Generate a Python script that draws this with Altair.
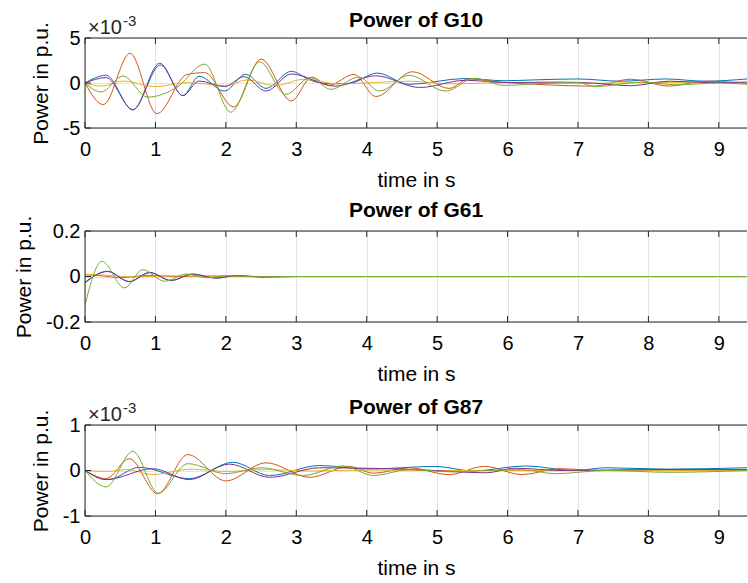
import altair as alt
import pandas as pd

# ---------------------------------------------------------------------------
# Data: damped power oscillations of three generators (five traces each)
# ---------------------------------------------------------------------------
TIME_TICKS = [0, 1, 2, 3, 4, 5, 6, 7, 8, 9]
T_MAX = 9.4

TRACE_NAMES = ["trace1", "trace2", "trace3", "trace4", "trace5"]
TRACE_COLORS = ["#0072BD", "#D95319", "#EDB120", "#7E2F8E", "#77AC30"]

# G10, values in 1e-3 p.u.
G10_T1 = [0, 0.3, 0.68, 1.06, 1.39, 1.62, 1.98, 2.28, 2.57, 2.93, 3.2, 3.5, 3.75, 4.15, 4.6, 5.4, 5.95, 6.4, 7.0, 7.6, 8.25, 8.8, 9.4]
G10_V1 = [0, 0.86, -3.0, 2.2, -1.4, 0.75, -0.9, 0.97, -0.6, 1.3, 0.3, -0.08, -0.05, 1.1, -0.15, 0.5, 0.25, 0.35, 0.45, 0.2, 0.45, 0.2, 0.45]
G10_T2 = [0, 0.26, 0.64, 1.02, 1.45, 1.7, 2.11, 2.5, 2.93, 3.22, 3.46, 3.82, 4.13, 4.65, 5.17, 5.45, 5.9, 6.55, 7.22, 7.75, 8.3, 8.8, 9.4]
G10_V2 = [0, -2.4, 3.3, -3.4, 0.95, 1.15, -2.65, 2.65, -2.0, 0.65, -0.25, 0.95, -1.5, 1.25, -0.6, 0.45, 0.1, -0.2, -0.35, 0.42, -0.35, 0.2, -0.05]
G10_T3 = [0, 0.24, 0.54, 1.0, 1.45, 2.0, 2.3, 2.7, 3.1, 3.6, 4.1, 4.6, 5.2, 6.0, 7.0, 8.0, 9.4]
G10_V3 = [0, -0.35, 0.22, -0.42, 0.05, -0.3, 0.35, -0.3, 0.4, -0.1, 0.05, 0.2, -0.1, 0.05, -0.05, 0.05, 0.0]
G10_T4 = [0, 0.3, 0.68, 1.07, 1.39, 1.62, 1.98, 2.26, 2.57, 2.93, 3.55, 4.13, 4.75, 5.4, 6.0, 6.7, 7.2, 7.75, 8.3, 8.9, 9.4]
G10_V4 = [0, 0.6, -2.95, 2.0, -1.4, 0.22, -0.4, 0.7, -0.9, 1.0, -0.35, 0.8, -0.5, 0.3, 0.05, 0.1, 0.0, -0.3, 0.2, 0.05, 0.1]
G10_T5 = [0, 0.23, 0.54, 0.89, 1.3, 1.7, 2.07, 2.48, 2.85, 3.2, 3.49, 3.89, 4.18, 4.6, 5.12, 5.53, 5.95, 6.5, 7.0, 7.25, 7.9, 8.4, 9.0, 9.4]
G10_V5 = [0, -1.0, 0.78, -1.57, -0.5, 2.1, -3.25, 2.35, -1.27, 0.6, -0.7, 0.67, -0.9, 0.86, -0.9, 0.52, -0.26, -0.05, 0.05, -0.4, 0.1, -0.2, 0.0, -0.15]

# G61, values in p.u.
G61_T1 = [0, 0.32, 0.63, 0.92, 1.22, 1.53, 1.86, 2.15, 2.5, 3.0, 9.4]
G61_V1 = [-0.028, 0.023, -0.023, 0.018, -0.018, 0.011, -0.007, 0.004, -0.002, 0, 0]
G61_T2 = [0, 0.2, 0.5, 0.9, 1.3, 1.8, 2.5, 9.4]
G61_V2 = [0.008, 0.004, -0.005, 0.005, 0.0, 0.002, 0, 0]
G61_T3 = [0, 0.3, 0.7, 1.2, 2.0, 9.4]
G61_V3 = [0.01, 0.006, -0.002, 0.003, 0, 0]
G61_T4 = [0, 0.32, 0.63, 0.92, 1.22, 1.53, 1.86, 2.15, 2.5, 3.0, 9.4]
G61_V4 = [-0.025, 0.022, -0.022, 0.017, -0.017, 0.01, -0.007, 0.004, -0.002, 0, 0]
G61_T5 = [0, 0.24, 0.56, 0.82, 1.13, 1.44, 1.74, 2.0, 2.4, 3.0, 9.4]
G61_V5 = [-0.125, 0.067, -0.05, 0.03, -0.021, 0.011, -0.006, 0.004, -0.001, 0, 0]

# G87, values in 1e-3 p.u.
G87_T1 = [0, 0.33, 0.77, 1.48, 2.1, 2.62, 3.33, 4.0, 4.98, 5.5, 6.26, 6.95, 7.4, 8.25, 9.4]
G87_V1 = [0, -0.2, 0.07, -0.18, 0.18, -0.11, 0.11, 0.03, 0.09, -0.01, 0.1, 0.0, 0.06, 0.03, 0.06]
G87_T2 = [0, 0.3, 0.63, 1.03, 1.46, 2.0, 2.57, 3.19, 3.75, 4.1, 4.6, 5.17, 5.67, 6.21, 6.73, 7.3, 8.0, 9.4]
G87_V2 = [0, -0.18, 0.26, -0.51, 0.35, -0.23, 0.17, -0.15, 0.09, -0.06, 0.06, -0.09, 0.09, -0.09, 0.04, 0.0, 0.01, 0.0]
G87_T3 = [0, 0.3, 0.6, 0.95, 1.5, 2.0, 2.6, 3.2, 4.0, 5.0, 9.4]
G87_V3 = [0, -0.02, 0.02, -0.09, 0.03, -0.02, 0.02, -0.01, 0.01, 0.0, 0.0]
G87_T4 = [0, 0.3, 0.96, 1.48, 2.05, 2.62, 3.33, 4.0, 4.7, 5.7, 6.1, 6.8, 8.0, 9.4]
G87_V4 = [0, -0.2, 0.04, -0.2, 0.14, -0.15, 0.06, 0.05, 0.02, -0.05, 0.05, 0.0, 0.02, 0.02]
G87_T5 = [0, 0.3, 0.68, 1.04, 1.46, 2.0, 2.5, 3.1, 3.66, 4.1, 4.6, 5.2, 5.7, 6.2, 6.68, 7.4, 8.3, 9.4]
G87_V5 = [0, -0.36, 0.42, -0.5, 0.15, -0.07, 0.06, -0.11, 0.1, -0.11, 0.02, -0.03, 0.0, 0.02, -0.07, 0.0, -0.04, 0.0]

PANELS = [
    dict(title="Power of G10", domain=[-5, 5], ticks=[-5, 0, 5], scaled=True,
         traces=[(G10_T1, G10_V1), (G10_T2, G10_V2), (G10_T3, G10_V3), (G10_T4, G10_V4), (G10_T5, G10_V5)]),
    dict(title="Power of G61", domain=[-0.2, 0.2], ticks=[-0.2, 0, 0.2], scaled=False,
         traces=[(G61_T1, G61_V1), (G61_T2, G61_V2), (G61_T3, G61_V3), (G61_T4, G61_V4), (G61_T5, G61_V5)]),
    dict(title="Power of G87", domain=[-1, 1], ticks=[-1, 0, 1], scaled=True,
         traces=[(G87_T1, G87_V1), (G87_T2, G87_V2), (G87_T3, G87_V3), (G87_T4, G87_V4), (G87_T5, G87_V5)]),
]

# ---------------------------------------------------------------------------
# Styling
# ---------------------------------------------------------------------------
FONT = "Liberation Sans"
INK = "#262626"
GRID = "#e3e3e3"
W = 662
HEIGHTS = [90, 91, 91]
TICK_LEN = 6


def make_panel(spec, height):
    x_enc = alt.X(
        "t:Q",
        scale=alt.Scale(domain=[0, T_MAX], nice=False, zero=False),
        axis=alt.Axis(values=TIME_TICKS, title="time in s", grid=True, gridColor=GRID,
                      ticks=False, tickSize=0, domain=False, labelFlush=False,
                      labelFontSize=20, labelPadding=11,
                      titleFontSize=21, titlePadding=10, titleFontWeight="normal"),
    )
    y_enc = alt.Y(
        "v:Q",
        scale=alt.Scale(domain=spec["domain"], nice=False, zero=False),
        axis=alt.Axis(values=spec["ticks"], title="Power in p.u.", grid=True, gridColor=GRID,
                      ticks=False, tickSize=0, domain=False, labelFlush=False,
                      labelFontSize=20, labelPadding=5,
                      labelExpr="replace(format(datum.value, '~g'), '\u2212', '-')",
                      titleFontSize=21, titlePadding=11, titleFontWeight="normal"),
    )

    layers = []
    for (ts, vs), name, col in zip(spec["traces"], TRACE_NAMES, TRACE_COLORS):
        df = pd.DataFrame({"t": ts, "v": vs, "trace": name})
        layers.append(
            alt.Chart(df).mark_line(strokeWidth=1, interpolate="monotone", clip=True, color=col)
            .encode(x=x_enc, y=y_enc)
        )

    xt = pd.DataFrame({"t": TIME_TICKS})
    yt = pd.DataFrame({"v": spec["ticks"]})
    one = pd.DataFrame({"k": [0]})
    tick_style = dict(color=INK, strokeWidth=1)
    # inward tick marks on bottom, top and left edges
    layers.append(alt.Chart(xt).mark_rule(**tick_style).encode(
        x=x_enc, y=alt.value(height), y2=alt.value(height - TICK_LEN)))
    layers.append(alt.Chart(xt).mark_rule(**tick_style).encode(
        x=x_enc, y=alt.value(0), y2=alt.value(TICK_LEN)))
    layers.append(alt.Chart(yt).mark_rule(**tick_style).encode(
        y=y_enc, x=alt.value(0), x2=alt.value(TICK_LEN)))
    # box outline (right side falls at the page edge)
    layers.append(alt.Chart(one).mark_rule(**tick_style).encode(
        x=alt.value(0), x2=alt.value(W), y=alt.value(0)))
    layers.append(alt.Chart(one).mark_rule(**tick_style).encode(
        x=alt.value(0), x2=alt.value(W), y=alt.value(height)))
    layers.append(alt.Chart(one).mark_rule(**tick_style).encode(
        x=alt.value(0), y=alt.value(0), y2=alt.value(height)))

    title_offset = -6
    if spec["scaled"]:
        layers.append(alt.Chart(one).mark_text(
            text="\u00d710", font=FONT, fontSize=20, color=INK, align="left", baseline="alphabetic"
        ).encode(x=alt.value(3), y=alt.value(-4)))
        layers.append(alt.Chart(one).mark_text(
            text="-3", font=FONT, fontSize=15, color=INK, align="left", baseline="alphabetic"
        ).encode(x=alt.value(38), y=alt.value(-12)))
        title_offset = -17

    return alt.layer(*layers).properties(
        width=W, height=height,
        title=alt.TitleParams(spec["title"], fontSize=21, fontWeight="bold", font=FONT,
                              color="#000000", offset=title_offset, anchor="middle", frame="group"),
    )


panels = [make_panel(s, h) for s, h in zip(PANELS, HEIGHTS)]

chart = (
    alt.vconcat(*panels, spacing=103, bounds="flush")
    .properties(padding={"left": 13, "top": 9, "right": 0, "bottom": 0})
    .configure_view(stroke=None)
    .configure_axis(labelFont=FONT, titleFont=FONT, labelColor=INK, titleColor=INK)
    .configure(background="white")
)

chart.save("out.html", embed_options={"renderer": "svg", "actions": False})
